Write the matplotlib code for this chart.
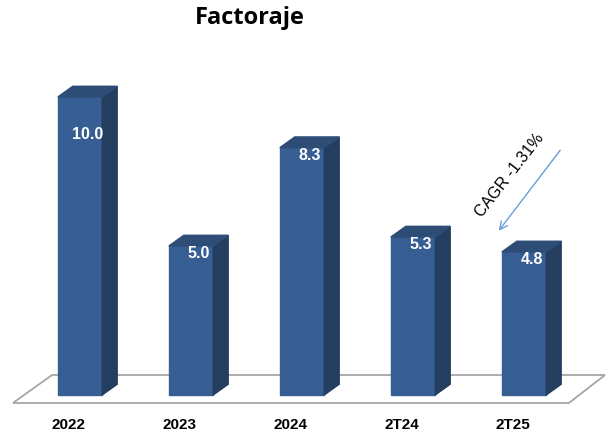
import matplotlib.pyplot as plt

categories = ["2022", "2023", "2024", "2T24", "2T25"]
values = [10.0, 5.0, 8.3, 5.3, 4.8]
title = "Factoraje"
cagr_text = "CAGR -1.31%"

# colores de las caras
front_c = "#375E92"
side_c = "#243E60"
top_c = "#2D4D77"

fig = plt.figure(figsize=(6.06, 4.34), dpi=100)
ax = fig.add_axes([0, 0, 1, 1])
ax.set_xlim(-0.7207, 4.7387)
ax.set_ylim(-1.3087, 13.255)
ax.axis("off")

w = 0.4      # ancho de la cara frontal
dx = 0.135   # profundidad en x
dy = 0.36    # profundidad en y

# piso
ax.fill([-0.604, 4.405, 4.73, -0.252], [-0.268, -0.268, 0.671, 0.671],
        facecolor="white", edgecolor="#A6A6A6", lw=1.3, zorder=1)

for i, v in enumerate(values):
    x0 = i - w / 2
    x1 = i + w / 2
    # frente
    ax.fill([x0, x1, x1, x0], [0, 0, v, v], color=front_c, zorder=3)
    # lado
    ax.fill([x1, x1 + dx, x1 + dx, x1], [0, dy, v + dy, v], color=side_c, zorder=3)
    # tapa
    ax.fill([x0, x1, x1 + dx, x0 + dx], [v, v, v + dy, v + dy], color=top_c, zorder=3)
    ax.text(i + 0.07, min(v - 0.25, 8.75), "%.1f" % v, color="white",
            fontsize=11.5, fontweight="bold", ha="center", va="center",
            family="Liberation Sans", zorder=4)
    ax.text(i - 0.1, -1.0, categories[i], color="black", fontsize=11,
            fontweight="bold", ha="center", va="center", family="Liberation Sans")

ax.annotate("", xy=(3.757, 5.436), xytext=(4.342, 8.289),
            arrowprops=dict(arrowstyle="->", color="#6A9ED6", lw=1.0,
                            mutation_scale=14))
ax.text(3.874, 7.38, cagr_text, rotation=52, fontsize=11.5, ha="center",
        va="center", family="Liberation Sans", rotation_mode="anchor")

fig.text(0.4125, 0.9585, title, fontsize=17, fontweight="bold",
         ha="center", va="center", family="Open Sans")

plt.savefig("out.png", dpi=100)
